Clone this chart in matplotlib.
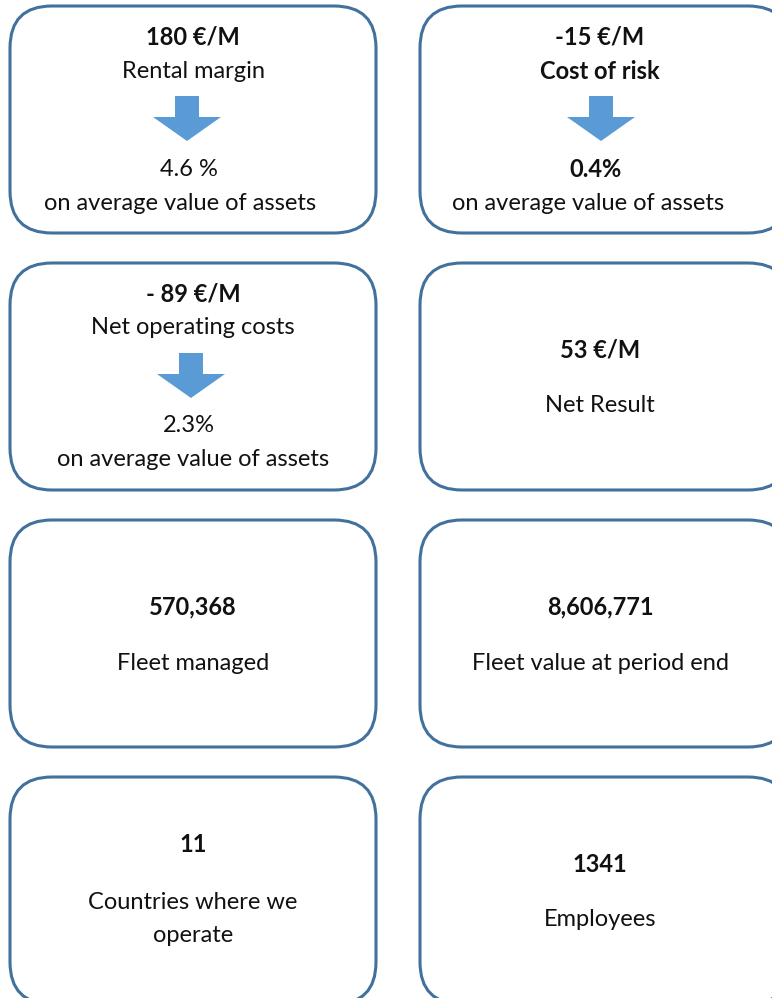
import matplotlib.pyplot as plt
from matplotlib.patches import FancyBboxPatch, Polygon

plt.rcParams['font.family'] = ['Lato', 'DejaVu Sans']

# card contents, left to right, top to bottom
values = ["180 €/M", "-15 €/M", "- 89 €/M", "53 €/M",
          "570,368", "8,606,771", "11", "1341"]
labels = ["Rental margin", "Cost of risk", "Net operating costs", "Net Result",
          "Fleet managed", "Fleet value at period end",
          "Countries where we\noperate", "Employees"]
label_bold = [False, True, False, False, False, False, False, False]
ratios = ["4.6 %", "0.4%", "2.3%", None, None, None, None, None]
ratio_bold = [False, True, False, False, False, False, False, False]
ratio_note = "on average value of assets"

edge = "#41719c"
arrow_col = "#5b9bd5"
txt = "#111111"
fs = 17

fig = plt.figure(figsize=(7.72, 9.98), dpi=100)
ax = fig.add_axes([0, 0, 1, 1])
ax.set_xlim(0, 772)
ax.set_ylim(998, 0)
ax.axis("off")

col_x = [(10, 376), (420, 790)]
row_top = [6, 263, 520, 777]
box_h = 227


def down_arrow(cx, top):
    pts = [(cx - 12, top), (cx + 12, top), (cx + 12, top + 21), (cx + 34, top + 21),
           (cx, top + 45), (cx - 34, top + 21), (cx - 12, top + 21)]
    ax.add_patch(Polygon(pts, closed=True, facecolor=arrow_col, edgecolor="none"))


for i in range(len(values)):
    r, c = divmod(i, 2)
    x0, x1 = col_x[c]
    y0 = row_top[r]
    ax.add_patch(FancyBboxPatch((x0, y0), x1 - x0, box_h,
                                boxstyle="round,pad=0,rounding_size=42",
                                facecolor="white", edgecolor=edge, linewidth=2.2))
    cx = 193 if c == 0 else 600
    if ratios[i] is not None:
        ax.text(cx, y0 + 31, values[i], ha="center", va="center",
                fontsize=fs, fontweight="bold", color=txt)
        ax.text(cx, y0 + 65, labels[i], ha="center", va="center", fontsize=fs,
                fontweight="bold" if label_bold[i] else "normal", color=txt)
        down_arrow(cx + (1 if c == 1 else -6 if r == 0 else -2), y0 + 90)
        ax.text(cx - 4, y0 + 163, ratios[i], ha="center", va="center", fontsize=fs,
                fontweight="bold" if ratio_bold[i] else "normal", color=txt)
        ax.text(cx - 12 if c == 1 else cx - 13 if r == 0 else cx, y0 + 197, ratio_note,
                ha="center", va="center", fontsize=fs, color=txt)
    elif "\n" in labels[i]:
        ax.text(cx, y0 + 68, values[i], ha="center", va="center",
                fontsize=fs, fontweight="bold", color=txt)
        ax.text(cx, y0 + 142, labels[i], ha="center", va="center", fontsize=fs,
                color=txt, linespacing=1.75)
    else:
        ax.text(cx, y0 + 87, values[i], ha="center", va="center",
                fontsize=fs, fontweight="bold", color=txt)
        ax.text(cx, y0 + 143, labels[i], ha="center", va="center", fontsize=fs,
                color=txt)

fig.savefig("out.png", dpi=100)
